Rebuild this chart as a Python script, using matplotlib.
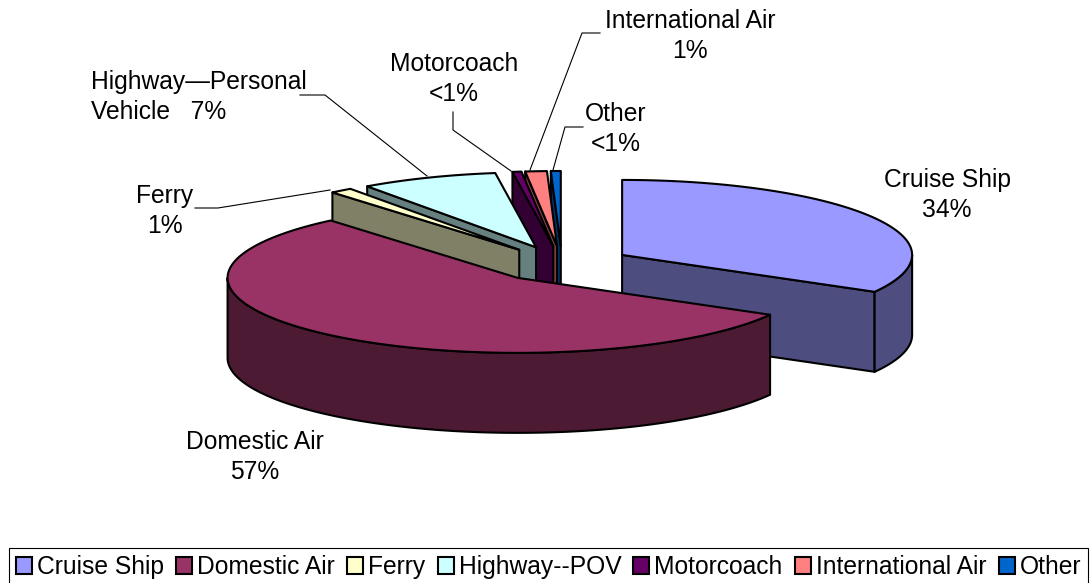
import numpy as np
import matplotlib
matplotlib.use('Agg')
import matplotlib.pyplot as plt
from matplotlib.patches import Patch, Polygon

plt.rcParams['font.family'] = ['Liberation Sans', 'DejaVu Sans']

# data
categories = ['Cruise Ship', 'Domestic Air', 'Ferry', 'Highway--POV', 'Motorcoach', 'International Air', 'Other']
shares = [33.2, 55.7, 1.25, 7.65, 0.5, 1.2, 0.55]
colors = ['#9999FF', '#993366', '#FFFFCC', '#CCFFFF', '#660066', '#FF8080', '#0066CC']

slice_labels = ['Cruise Ship\n34%', 'Domestic Air\n57%', 'Ferry\n1%', 'Motorcoach\n<1%',
                'International Air\n1%', 'Other\n<1%']
slice_label_pos = [(947, 195), (255, 457), (165, 211), (454, 79), (690, 36), (616, 129)]
leaders = [[(195, 208), (218, 208), (330, 190)],
           [(300, 95), (325, 95), (427, 176)],
           [(453, 112), (453, 130), (511, 171)],
           [(600, 33), (582, 33), (530, 170)],
           [(583, 127), (565, 127), (553, 170)]]

# pie geometry, in figure pixels
cx, cy = 562, 264
rx, ry = 290, 75
depth = 80
explode = 0.24
edge_lw = 1.5
fontsize = 17.7

fig = plt.figure(figsize=(10.92, 5.83), dpi=100)
ax = fig.add_axes([0, 0, 1, 1])
ax.set_xlim(0, 1092)
ax.set_ylim(583, 0)
ax.axis('off')


def rim(ox, oy, angles):
    t = np.radians(angles)
    return np.column_stack([ox + rx * np.sin(t), oy - ry * np.cos(t)])


def face(points, color, z):
    ax.add_patch(Polygon(points, closed=True, facecolor=color, edgecolor='black',
                         linewidth=edge_lw, joinstyle='round', zorder=z))


edges = np.concatenate([[0], np.cumsum(shares)]) / sum(shares) * 360
slices = []
for i in range(len(shares)):
    a, b = edges[i], edges[i + 1]
    mid = np.radians((a + b) / 2)
    ox = cx + explode * rx * np.sin(mid)
    oy = cy - explode * ry * np.cos(mid)
    slices.append((oy, ox, a, b, colors[i]))

# back slices first, so the front ones cover them
z = 2
for oy, ox, a, b, color in sorted(slices, key=lambda s: s[0]):
    dark = tuple(c / 2 for c in matplotlib.colors.to_rgb(color))
    drop = np.array([0, depth])
    apex = np.array([ox, oy])

    # cut faces
    if np.sin(np.radians(a)) < -1e-6:
        p = rim(ox, oy, [a])[0]
        face([apex, p, p + drop, apex + drop], dark, z)
    if np.sin(np.radians(b)) > 1e-6:
        p = rim(ox, oy, [b])[0]
        face([apex, p, p + drop, apex + drop], dark, z)

    # outer wall, only the part that faces the viewer
    lo, hi = max(a, 90), min(b, 270)
    if lo < hi:
        arc = rim(ox, oy, np.linspace(lo, hi, 120))
        face(np.vstack([arc, (arc + drop)[::-1]]), dark, z)

    # top
    top = rim(ox, oy, np.linspace(a, b, 200))
    face(np.vstack([apex, top]), color, z)
    z += 1

# leader lines and labels
for pts in leaders:
    xs, ys = zip(*pts)
    ax.plot(xs, ys, color='black', lw=0.8, zorder=1)

for text, (x, y) in zip(slice_labels, slice_label_pos):
    ax.text(x, y, text, ha='center', va='center', fontsize=fontsize, linespacing=1.27, color='black')
ax.text(91, 97, 'Highway\u2014Personal\nVehicle   7%', ha='left', va='center',
        fontsize=fontsize, linespacing=1.27, color='black')

handles = [Patch(facecolor=c, edgecolor='black', linewidth=edge_lw) for c in colors]
leg = ax.legend(handles, categories, ncols=len(categories), loc='center',
                bbox_to_anchor=(548.5, 567), bbox_transform=ax.transData,
                fontsize=fontsize, frameon=True, fancybox=False, framealpha=1,
                edgecolor='black', handlelength=0.65, handleheight=0.65,
                handletextpad=0.2, columnspacing=0.5, borderpad=0.3, borderaxespad=0)
leg.get_frame().set_linewidth(0.8)
leg.set_zorder(20)

fig.savefig('out.png', dpi=100)
